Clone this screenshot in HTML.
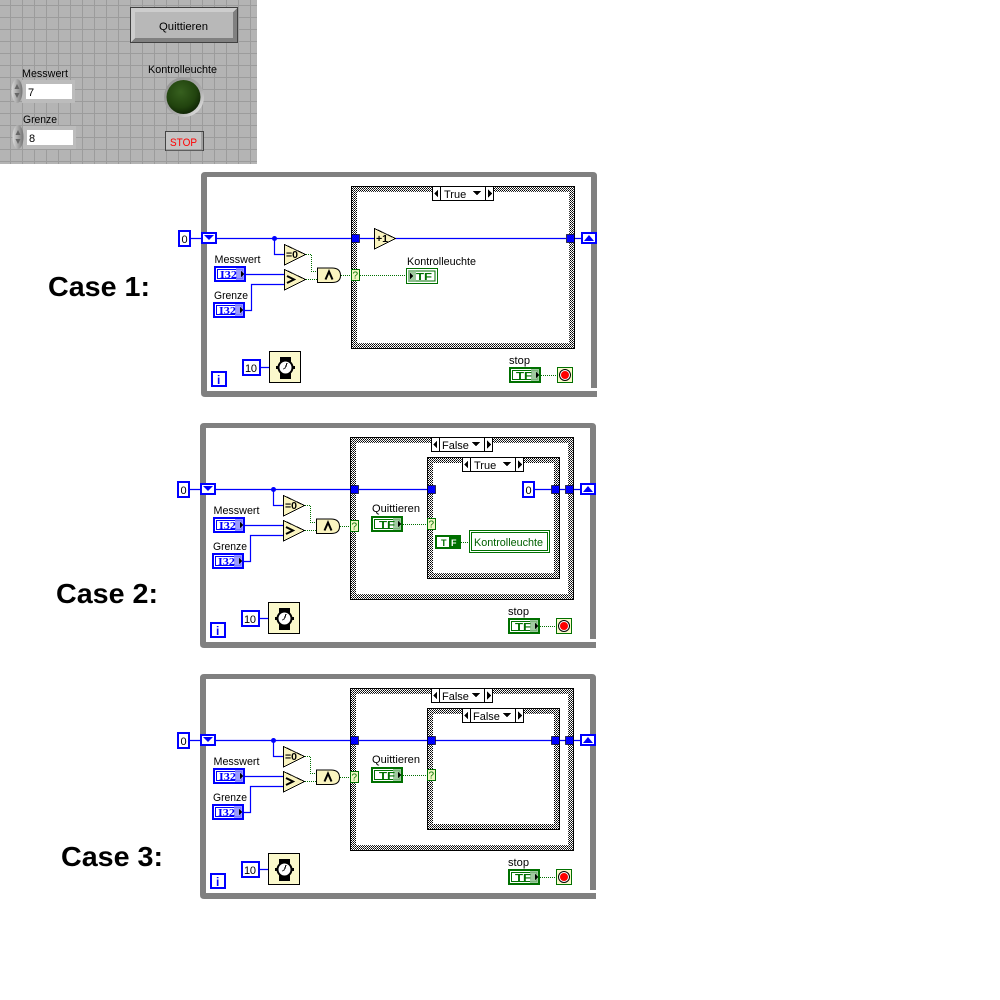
<!DOCTYPE html>
<html><head><meta charset="utf-8"><style>
html,body{margin:0;padding:0;background:#fff;width:1000px;height:1000px;overflow:hidden}
svg{display:block}
text{font-family:"Liberation Sans",sans-serif;font-size:11px;fill:#000;shape-rendering:auto}
.c{font-weight:bold;font-size:28px;fill:#000}
.s{font-family:"Liberation Serif",serif;font-weight:bold;font-size:11px;fill:#00f}
.t{font-weight:bold;font-size:10px;fill:#007000}
.w{fill:none;stroke:#00f;stroke-width:1.2;shape-rendering:geometricPrecision}
.g{fill:none;stroke:#007000;stroke-dasharray:1 1}
.b{font-weight:bold;font-size:10px}
</style></head><body>
<svg width="1000" height="1000" viewBox="0 0 1000 1000" xmlns="http://www.w3.org/2000/svg" shape-rendering="crispEdges">
<defs>
<pattern id="ck" width="2" height="2" patternUnits="userSpaceOnUse"><rect width="2" height="2" fill="#fff"/><rect width="1" height="1" fill="#000"/><rect x="1" y="1" width="1" height="1" fill="#333"/></pattern>
<pattern id="gr" width="12" height="12" patternUnits="userSpaceOnUse" x="10" y="5"><rect width="12" height="12" fill="#b4b4b4"/><rect width="1" height="12" fill="#9c9c9c"/><rect width="12" height="1" fill="#9c9c9c"/></pattern>
<radialGradient id="led" cx=".42" cy=".35" r=".7"><stop offset="0" stop-color="#37601f"/><stop offset=".65" stop-color="#21430e"/><stop offset="1" stop-color="#0d2004"/></radialGradient>
<linearGradient id="halo" x1="0" y1="0" x2="1" y2="1"><stop offset="0" stop-color="#929292"/><stop offset=".6" stop-color="#a8a8a8"/><stop offset="1" stop-color="#f4f4f4"/></linearGradient>
<linearGradient id="spin" x1="0" y1="0" x2="1" y2="0"><stop offset="0" stop-color="#dadada"/><stop offset="1" stop-color="#747474"/></linearGradient>

<g id="loop">
<path d="M205 172H593Q597 172 597 176V388H591V177H207V391H597V397H205Q201 397 201 393V176Q201 172 205 172Z" fill="#808080" shape-rendering="geometricPrecision"/>
<rect x="592" y="388" width="5" height="2" fill="#fff"/>
<rect x="179" y="231" width="11" height="15" fill="#fff" stroke="#00f" stroke-width="2"/>
<rect x="202" y="233" width="14" height="10" fill="#fff" stroke="#00f" stroke-width="2"/>
<path d="M204 235H214L209 240Z" fill="#00f" shape-rendering="auto"/>
<rect x="582" y="233" width="14" height="10" fill="#fff" stroke="#00f" stroke-width="2"/>
<path d="M584 241H594L589 235Z" fill="#00f" shape-rendering="auto"/>
<path class="w" d="M191 238.500H202M217 238.500H351M274.500 238.500V254.500H284M246 274.500H284M245 310.500H251.500V284.500H284M261 367.500H269"/>
<circle cx="274.500" cy="238.500" r="2.500" fill="#00f" shape-rendering="auto"/>
<path d="M284.500 244.500L305.500 254.500L284.500 265Z" fill="#faf4c0" stroke="#000"/>
<path d="M284.500 269.500L305.500 279.500L284.500 290Z" fill="#faf4c0" stroke="#000"/>
<path d="M317.500 268H332Q340.500 268 340.500 275.500Q340.500 282.500 332 282.500H317.500Z" fill="#faf4c0" stroke="#000" shape-rendering="geometricPrecision"/>
<path d="M287 276L294 279.500L287 283" fill="none" stroke="#000" stroke-width="2" shape-rendering="auto"/>
<path d="M325.500 279.500L329 271.500L332.500 279.500" fill="none" stroke="#000" stroke-width="2" shape-rendering="auto"/>
<path class="g" d="M306 254.500H311.500V271.500H317M306 279.500H317M341 275.500H351"/>
<rect x="243" y="360" width="17" height="15" fill="#fff" stroke="#00f" stroke-width="2"/>
<rect x="269.500" y="351.500" width="31" height="31" fill="#fbf9cc" stroke="#000"/>
<rect x="280" y="357" width="11" height="5" fill="#000"/><rect x="280" y="373" width="11" height="6" fill="#000"/>
<circle cx="285.500" cy="367.500" r="7" fill="#fff" stroke="#000" stroke-width="2" shape-rendering="auto"/>
<rect x="293" y="366" width="2" height="3" fill="#000"/><rect x="276" y="366" width="2" height="3" fill="#000"/>
<path d="M285.500 367.500L287 363M285.500 367.500L283.500 369" stroke="#000" fill="none"/>
<rect x="212" y="372" width="14" height="14" fill="#fff" stroke="#00f" stroke-width="2"/>
<rect x="510" y="368" width="30" height="14" fill="#fff" stroke="#007000" stroke-width="2"/>
<rect x="512.500" y="370.500" width="25" height="9" fill="none" stroke="#007000"/>
<rect x="531" y="369" width="8" height="12" fill="#8fc08f" opacity=".85"/>
<path d="M536 372L539 375L536 378Z" fill="#000"/>
<path class="g" d="M541 375.500H557"/>
<rect x="557.500" y="367.500" width="15" height="15" fill="#fbf9cc" stroke="#007000"/>
<circle cx="565" cy="375" r="5.500" fill="#fff" stroke="#000" shape-rendering="auto"/>
<circle cx="565" cy="375" r="4" fill="#f00" shape-rendering="auto"/>
<rect x="215" y="267" width="30" height="14" fill="#fff" stroke="#00f" stroke-width="2"/>
<rect x="217.500" y="269.500" width="25" height="9" fill="none" stroke="#00f"/>
<rect x="236" y="268" width="8" height="12" fill="#8a8aff" opacity=".85"/>
<path d="M241 271L244 274L241 277Z" fill="#000"/>
<rect x="214" y="303" width="30" height="14" fill="#fff" stroke="#00f" stroke-width="2"/>
<rect x="216.500" y="305.500" width="25" height="9" fill="none" stroke="#00f"/>
<rect x="235" y="304" width="8" height="12" fill="#8a8aff" opacity=".85"/>
<path d="M240 307L243 310L240 313Z" fill="#000"/>
</g>

<g id="caseL">
<path fill-rule="evenodd" d="M351 186H575V349H351ZM357 192V343H569V192Z" fill="url(#ck)"/>
<rect x="351.500" y="186.500" width="223" height="162" fill="none" stroke="#000"/>
</g>
<g id="tn"><rect x=".5" y=".5" width="8" height="8" fill="#00f" stroke="#000" stroke-opacity=".65"/></g>
<g id="q"><rect x=".5" y=".5" width="8" height="11" fill="#eff7c0" stroke="#007000"/></g>
<g id="sel">
<rect x=".5" y=".5" width="61" height="14" fill="#fff" stroke="#000"/>
<path d="M8.500 0V15M53.500 0V15" stroke="#000"/>
<path d="M6 3.500V11.500L2 7.500Z M56 3.500V11.500L60 7.500Z M41 5H49L45 9.500Z" fill="#000"/>
</g>
<g id="tfq">
<rect x="1" y="1" width="30" height="14" fill="#fff" stroke="#007000" stroke-width="2"/>
<rect x="3.500" y="3.500" width="25" height="9" fill="none" stroke="#007000"/>
<rect x="22" y="2" width="8" height="12" fill="#8fc08f" opacity=".85"/>
<path d="M27 5L30 8L27 11Z" fill="#000"/>
</g>
</defs>

<rect width="1000" height="1000" fill="#fff"/>

<!-- front panel -->
<rect x="0" y="0" width="257" height="164" fill="url(#gr)"/>
<rect x="130.500" y="7.500" width="107" height="35" fill="#b5b5b5" stroke="#404040"/>
<path d="M131 8H237L233 12H135V38L131 42Z" fill="#cdcdcd"/>
<path d="M237 42H131L135 38H233V12L237 8Z" fill="#808080"/>
<rect x="135" y="12" width="98" height="26" fill="#b8b8b8"/>
<text x="159" y="30" textLength="49" lengthAdjust="spacingAndGlyphs">Quittieren</text>
<text x="22" y="77" textLength="46" lengthAdjust="spacingAndGlyphs">Messwert</text>
<rect x="22" y="80" width="53" height="23" fill="#bcbcbc"/>
<rect x="26" y="84" width="46" height="15" fill="#fff"/>
<ellipse cx="17" cy="91" rx="5.500" ry="12" fill="url(#spin)" shape-rendering="auto"/>
<path d="M14.500 89L17 84L19.500 89ZM14.500 93L17 98L19.500 93Z" fill="#666" shape-rendering="auto"/>
<text x="28" y="96">7</text>
<text x="23" y="123" textLength="34" lengthAdjust="spacingAndGlyphs">Grenze</text>
<rect x="23" y="126" width="53" height="23" fill="#bcbcbc"/>
<rect x="27" y="130" width="46" height="15" fill="#fff"/>
<ellipse cx="18" cy="137" rx="5.500" ry="12" fill="url(#spin)" shape-rendering="auto"/>
<path d="M15.500 135L18 130L20.500 135ZM15.500 139L18 144L20.500 139Z" fill="#666" shape-rendering="auto"/>
<text x="29" y="142">8</text>
<text x="148" y="73" textLength="69" lengthAdjust="spacingAndGlyphs">Kontrolleuchte</text>
<circle cx="184" cy="97" r="20" fill="url(#halo)" shape-rendering="auto"/>
<circle cx="183.500" cy="97" r="17" fill="url(#led)" shape-rendering="auto"/>
<rect x="165.500" y="131.500" width="38" height="19" fill="#c4c4c4" stroke="#444"/>
<path d="M202 132V150H166" stroke="#777" fill="none"/>
<text x="170" y="146" textLength="27" lengthAdjust="spacingAndGlyphs" style="fill:#f00">STOP</text>

<!-- labels -->
<text class="c" x="48" y="296" textLength="102" lengthAdjust="spacingAndGlyphs">Case 1:</text>
<text class="c" x="56" y="603" textLength="102" lengthAdjust="spacingAndGlyphs">Case 2:</text>
<text class="c" x="61" y="866" textLength="102" lengthAdjust="spacingAndGlyphs">Case 3:</text>

<!-- CASE 1 -->
<g>
<use href="#loop"/>
<use href="#caseL"/>
<path class="w" d="M360 238.500H374M395 238.500H566M575 238.500H582"/>
<use href="#tn" x="351" y="234"/><use href="#tn" x="566" y="234"/>
<use href="#q" x="351" y="269"/>
<text x="352.500" y="278.500" style="fill:#007000;font-size:10px">?</text>
<use href="#sel" x="432" y="186"/>
<text x="444" y="198">True</text>
<path d="M374.500 228.500L395.500 238.500L374.500 249Z" fill="#faf4c0" stroke="#000"/>
<text x="376" y="242" class="b" textLength="12" lengthAdjust="spacingAndGlyphs">+1</text>
<path class="g" d="M360 275.500H406"/>
<text x="407" y="265" textLength="69" lengthAdjust="spacingAndGlyphs">Kontrolleuchte</text>
<rect x="406.500" y="268.500" width="31" height="15" fill="#fff" stroke="#007000"/>
<rect x="409" y="271" width="26" height="10" fill="none" stroke="#007000"/>
<rect x="408" y="270" width="8" height="12" fill="#8fc08f" opacity=".85"/>
<path d="M410 273L413 276L410 279Z" fill="#000"/>
<text x="416" y="280" class="t" textLength="16" lengthAdjust="spacingAndGlyphs">TF</text>
<text x="181.500" y="243">0</text>
<text x="286" y="258" class="b" textLength="12" lengthAdjust="spacingAndGlyphs">=0</text>
<text x="214.500" y="263" textLength="46" lengthAdjust="spacingAndGlyphs">Messwert</text>
<text x="214" y="299" textLength="34" lengthAdjust="spacingAndGlyphs">Grenze</text>
<text x="220" y="278" class="s" textLength="17" lengthAdjust="spacingAndGlyphs">I32</text>
<text x="219" y="314" class="s" textLength="17" lengthAdjust="spacingAndGlyphs">I32</text>
<text x="245" y="372" textLength="12">10</text>
<text x="217" y="384" style="font-weight:bold;font-size:12px;fill:#00f">i</text>
<text x="509" y="364" textLength="21" lengthAdjust="spacingAndGlyphs">stop</text>
<text x="516" y="379" class="t" textLength="16" lengthAdjust="spacingAndGlyphs">TF</text>
</g>

<!-- CASE 2 -->
<g transform="translate(-1,251)">
<use href="#loop"/>
<use href="#caseL"/>
<use href="#q" x="351" y="269"/>
<text x="352.500" y="278.500" style="fill:#007000;font-size:10px">?</text>
<use href="#sel" x="432" y="186"/>
<text x="443" y="198">False</text>
<text x="181.500" y="243">0</text>
<text x="286" y="258" class="b" textLength="12" lengthAdjust="spacingAndGlyphs">=0</text>
<text x="214.500" y="263" textLength="46" lengthAdjust="spacingAndGlyphs">Messwert</text>
<text x="214" y="299" textLength="34" lengthAdjust="spacingAndGlyphs">Grenze</text>
<text x="220" y="278" class="s" textLength="17" lengthAdjust="spacingAndGlyphs">I32</text>
<text x="219" y="314" class="s" textLength="17" lengthAdjust="spacingAndGlyphs">I32</text>
<text x="245" y="372" textLength="12">10</text>
<text x="217" y="384" style="font-weight:bold;font-size:12px;fill:#00f">i</text>
<text x="509" y="364" textLength="21" lengthAdjust="spacingAndGlyphs">stop</text>
<text x="516" y="379" class="t" textLength="16" lengthAdjust="spacingAndGlyphs">TF</text>
</g>
<g>
<path fill-rule="evenodd" d="M427 457H560V579H427ZM433 463V573H554V463Z" fill="url(#ck)"/>
<rect x="427.500" y="457.500" width="132" height="121" fill="none" stroke="#000"/>
<path class="w" d="M359 489.500H427M535 489.500H551M560 489.500H565M574 489.500H581"/>
<use href="#tn" x="350" y="485"/><use href="#tn" x="427" y="485"/><use href="#tn" x="551" y="485"/><use href="#tn" x="565" y="485"/>
<use href="#sel" x="462" y="457"/>
<text x="474" y="469">True</text>
<rect x="523" y="482" width="11" height="15" fill="#fff" stroke="#00f" stroke-width="2"/>
<text x="525.500" y="494">0</text>
<text x="372" y="512" textLength="48" lengthAdjust="spacingAndGlyphs">Quittieren</text>
<use href="#tfq" x="371" y="516"/>
<text x="379" y="528" class="t" textLength="16" lengthAdjust="spacingAndGlyphs">TF</text>
<path class="g" d="M403 524.500H427"/>
<use href="#q" x="427" y="518"/>
<text x="428.500" y="527.500" style="fill:#007000;font-size:10px">?</text>
<rect x="436" y="536" width="24" height="12" fill="#fff" stroke="#007000" stroke-width="2"/>
<rect x="449" y="537" width="10" height="10" fill="#007000"/>
<text x="451" y="546" class="t" style="fill:#fff;font-size:9px">F</text>
<text x="441" y="546" class="t" style="font-size:9px">T</text>
<path class="g" d="M461 542.500H469"/>
<rect x="469.500" y="530.500" width="80" height="22" fill="#fff" stroke="#007000"/>
<rect x="471.500" y="532.500" width="76" height="18" fill="#fff" stroke="#007000"/>
<text x="474" y="546" textLength="69" lengthAdjust="spacingAndGlyphs" style="fill:#006000">Kontrolleuchte</text>
</g>

<!-- CASE 3 -->
<g transform="translate(-1,502)">
<use href="#loop"/>
<use href="#caseL"/>
<use href="#q" x="351" y="269"/>
<text x="352.500" y="278.500" style="fill:#007000;font-size:10px">?</text>
<use href="#sel" x="432" y="186"/>
<text x="443" y="198">False</text>
<text x="181.500" y="243">0</text>
<text x="286" y="258" class="b" textLength="12" lengthAdjust="spacingAndGlyphs">=0</text>
<text x="214.500" y="263" textLength="46" lengthAdjust="spacingAndGlyphs">Messwert</text>
<text x="214" y="299" textLength="34" lengthAdjust="spacingAndGlyphs">Grenze</text>
<text x="220" y="278" class="s" textLength="17" lengthAdjust="spacingAndGlyphs">I32</text>
<text x="219" y="314" class="s" textLength="17" lengthAdjust="spacingAndGlyphs">I32</text>
<text x="245" y="372" textLength="12">10</text>
<text x="217" y="384" style="font-weight:bold;font-size:12px;fill:#00f">i</text>
<text x="509" y="364" textLength="21" lengthAdjust="spacingAndGlyphs">stop</text>
<text x="516" y="379" class="t" textLength="16" lengthAdjust="spacingAndGlyphs">TF</text>
</g>
<g>
<path fill-rule="evenodd" d="M427 708H560V830H427ZM433 714V824H554V714Z" fill="url(#ck)"/>
<rect x="427.500" y="708.500" width="132" height="121" fill="none" stroke="#000"/>
<path class="w" d="M359 740.500H581"/>
<use href="#tn" x="350" y="736"/><use href="#tn" x="427" y="736"/><use href="#tn" x="551" y="736"/><use href="#tn" x="565" y="736"/>
<use href="#sel" x="462" y="708"/>
<text x="473" y="720">False</text>
<text x="372" y="763" textLength="48" lengthAdjust="spacingAndGlyphs">Quittieren</text>
<use href="#tfq" x="371" y="767"/>
<text x="379" y="779" class="t" textLength="16" lengthAdjust="spacingAndGlyphs">TF</text>
<path class="g" d="M403 775.500H427"/>
<use href="#q" x="427" y="769"/>
<text x="428.500" y="778.500" style="fill:#007000;font-size:10px">?</text>
</g>
</svg>
</body></html>
